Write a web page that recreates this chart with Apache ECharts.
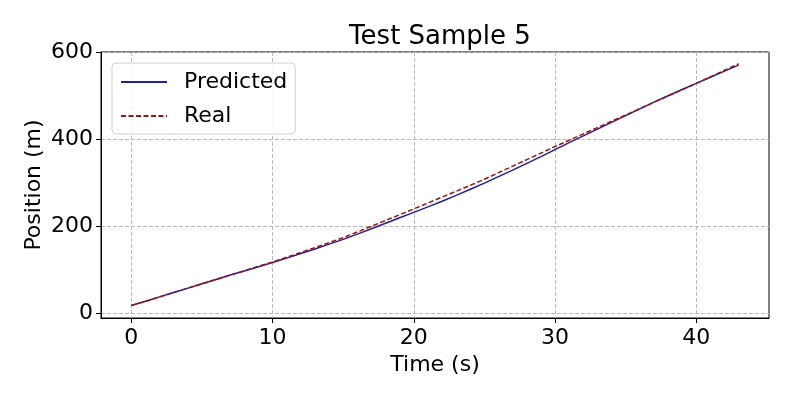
<!DOCTYPE html>
<html>
<head>
	<meta charset="utf-8">
	<title></title>
	<script src="https://cdn.jsdelivr.net/npm/echarts@6/dist/echarts.min.js"></script>
	<style>
		html, body { margin: 0; padding: 0; background: #fff; }
		#box_1 { width: 793px; height: 397px; }
	</style>
</head>
<body>
	<div id="box_1"></div>
<script>
	// 数据
	var timeList = [0,1,2,3,4,5,6,7,8,9,10,11,12,13,14,15,16,17,18,19,20,21,22,23,24,25,26,27,28,29,30,31,32,33,34,35,36,37,38,39,40,41,42,43]
	var predicted = [18,28,38,48,58,68,78,88,97.5,107,117,127,137.5,148,159,170,182,194.5,207,219.5,232,244.5,257.5,271,285,299,314,329,344.5,360,376,392,407.5,423,438.5,454,469.5,485,499.5,514,528,542,556,570]
	var real = [18,28,38,48,58,68,78,88,98,108,118,129,140,151,162.5,174,187,200,213.5,226.5,240,253.5,267,280.5,294,308,323,338,353,368,383,397.5,412,426.5,441,455.5,470,484.5,499,513.5,528,543,558,573]
	var xTicks = [0,10,20,30,40]
	var yTicks = [0,200,400,600]

	var font = 'DejaVu Sans'
	var myChart = echarts.init(document.getElementById('box_1'))

	function pairs(vals) {
		var arr = []
		for (var i = 0; i < timeList.length; i++) {
			arr.push([timeList[i], vals[i]])
		}
		return arr
	}

	var gridLine = { show: true, lineStyle: { color: '#b9b9b9', type: [4, 2], width: 1 } }

	var option = {
		animation: false,
		backgroundColor: '#fff',
		title: {
			text: 'Test Sample 5',
			left: 435,
			top: 19,
			textAlign: 'center',
			textStyle: { fontFamily: font, fontSize: 26, fontWeight: 'normal', color: '#000' }
		},
		legend: {
			orient: 'vertical',
			left: 112,
			top: 63,
			padding: [8, 8, 7, 8],
			itemWidth: 46,
			itemHeight: 14,
			itemGap: 12,
			backgroundColor: 'rgba(255,255,255,0.85)',
			borderColor: '#d0d0d0',
			borderWidth: 1,
			borderRadius: 4,
			itemStyle: { opacity: 0 },
			textStyle: { fontFamily: font, fontSize: 22, color: '#000', padding: [0, 0, 0, 12] },
			data: ['Predicted', 'Real']
		},
		grid: {
			left: 101,
			right: 24,
			top: 52,
			bottom: 79,
			show: true,
			borderColor: '#000',
			borderWidth: 1,
			containLabel: false
		},
		xAxis: {
			type: 'value',
			min: -2.15,
			max: 45.15,
			name: 'Time (s)',
			nameLocation: 'middle',
			nameGap: 36,
			nameTextStyle: { fontFamily: font, fontSize: 22, color: '#000' },
			axisLine: { show: true, onZero: false, lineStyle: { color: '#000' } },
			axisTick: { show: true, length: 5, customValues: xTicks, lineStyle: { color: '#000' } },
			axisLabel: { customValues: xTicks, fontFamily: font, fontSize: 22, color: '#000', margin: 9 },
			splitLine: gridLine
		},
		yAxis: {
			type: 'value',
			min: -10.5,
			max: 600,
			name: 'Position (m)',
			nameLocation: 'middle',
			nameGap: 56,
			nameMoveOverlap: false,
			nameTextStyle: { fontFamily: font, fontSize: 22, color: '#000' },
			axisLine: { show: true, onZero: false, lineStyle: { color: '#000' } },
			axisTick: { show: true, length: 5, customValues: yTicks, lineStyle: { color: '#000' } },
			axisLabel: { customValues: yTicks, fontFamily: font, fontSize: 22, color: '#000', margin: 8 },
			splitLine: gridLine
		},
		series: [
			{
				name: 'Predicted',
				type: 'line',
				data: pairs(predicted),
				showSymbol: false,
				symbol: 'none',
				smooth: false,
				itemStyle: { color: '#1f1fa3' },
				lineStyle: { color: '#1f1fa3', width: 1.5 }
			},
			{
				name: 'Real',
				type: 'line',
				data: pairs(real),
				showSymbol: false,
				symbol: 'none',
				smooth: false,
				itemStyle: { color: '#9c1313' },
				lineStyle: { color: '#9c1313', width: 1.5, type: [5, 2.5] }
			}
		]
	}
	myChart.setOption(option)
</script>
</body>
</html>
